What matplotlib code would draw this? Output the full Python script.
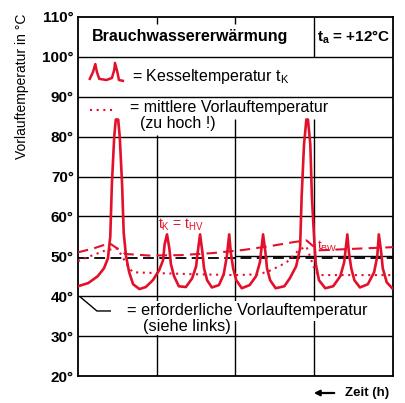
import matplotlib.pyplot as plt

plt.rcParams['font.family'] = ['Liberation Sans', 'DejaVu Sans']
plt.rcParams['mathtext.fontset'] = 'custom'
plt.rcParams['mathtext.rm'] = 'Liberation Sans'
plt.rcParams['mathtext.it'] = 'Liberation Sans'
plt.rcParams['mathtext.bf'] = 'Liberation Sans:bold'

RED = '#e3102b'

# Kesseltemperatur t_K (Zeit in Rasterfeldern, Temperatur in degC)
kessel_t = [0.00, 0.13, 0.25, 0.33, 0.38, 0.41, 0.43, 0.46, 0.48, 0.51, 0.53, 0.56,
            0.58, 0.61, 0.65, 0.70, 0.78, 0.86, 0.95, 1.03, 1.08, 1.10, 1.13, 1.16,
            1.18, 1.22, 1.28, 1.37, 1.45, 1.50, 1.52, 1.55, 1.58, 1.60, 1.64, 1.70,
            1.79, 1.85, 1.89, 1.92, 1.94, 1.97, 2.01, 2.08, 2.18, 2.26, 2.31, 2.35,
            2.38, 2.40, 2.44, 2.51, 2.62, 2.69, 2.77, 2.82, 2.84, 2.87, 2.90, 2.92,
            2.95, 2.97, 3.00, 3.02, 3.06, 3.14, 3.24, 3.33, 3.38, 3.42, 3.44, 3.47,
            3.51, 3.58, 3.68, 3.76, 3.80, 3.82, 3.85, 3.87, 3.92, 3.99]
kessel_T = [42.5, 43.3, 45.0, 47.0, 49.5, 55.0, 68.0, 80.0, 84.3, 84.3, 80.0, 68.0,
            56.0, 50.0, 46.0, 43.0, 41.8, 42.3, 44.0, 46.5, 49.0, 53.0, 55.5, 52.0,
            48.0, 45.0, 42.5, 42.3, 44.5, 47.5, 51.0, 55.5, 51.0, 47.0, 44.0, 42.2,
            42.8, 45.5, 50.0, 55.5, 51.0, 47.0, 44.0, 42.0, 42.8, 45.0, 48.5, 55.5,
            51.0, 47.0, 44.0, 42.0, 42.5, 44.5, 47.5, 52.0, 65.0, 78.0, 84.3, 84.3,
            78.0, 65.0, 54.0, 48.0, 44.0, 42.0, 42.5, 45.0, 48.5, 55.5, 51.0, 47.0,
            44.0, 42.2, 43.0, 46.0, 50.0, 55.5, 51.0, 47.0, 43.5, 42.0]

# Brauchwassertemperatur t_BW
bw_t = [0.00, 0.20, 0.40, 0.60, 0.90, 1.30, 1.70, 2.10, 2.45, 2.75, 2.90, 3.05, 3.40, 4.00]
bw_T = [51.0, 52.0, 53.3, 50.6, 50.2, 50.3, 50.8, 51.6, 52.6, 53.6, 54.0, 51.5, 51.8, 52.3]

# mittlere Vorlauftemperatur
mittel_t = [0.00, 0.15, 0.35, 0.50, 0.65, 0.70, 1.00, 1.50, 2.00, 2.30, 2.45, 2.65,
            2.80, 2.90, 3.00, 3.05, 4.00]
mittel_T = [48.8, 50.0, 51.5, 52.0, 47.0, 46.0, 45.8, 45.5, 45.3, 45.5, 46.5, 48.5,
            51.5, 52.5, 47.0, 45.3, 45.3]

# erforderliche Vorlauftemperatur
erf_t = [0.0, 4.0]
erf_T = [49.7, 49.7]

y_ticks = [20, 30, 40, 50, 60, 70, 80, 90, 100, 110]
y_labels = [f"{v}°" for v in y_ticks]

fig = plt.figure(figsize=(4.06, 4.03), dpi=100)
ax = fig.add_axes([78 / 406, 27 / 403, 315 / 406, 359 / 403])
ax.set_xlim(0, 4)
ax.set_ylim(20, 110)
ax.set_xticks([])
ax.set_yticks(y_ticks)
ax.set_yticklabels(y_labels, fontsize=11, fontweight='bold')
ax.tick_params(axis='y', length=0, pad=3)
for s in ax.spines.values():
    s.set_linewidth(1.3)

# raster
ax.hlines([30, 40, 60, 70, 80, 90, 100], 0, 4, color='black', lw=1.0, zorder=1)
ax.hlines(50, 2, 4, color='black', lw=1.0, zorder=1)
ax.vlines([1, 2, 3], 20, [80.5, 84.5, 84.5], color='black', lw=1.0, zorder=1)
ax.vlines([1, 2], 108.2, 110, color='black', lw=1.0, zorder=1)
ax.vlines(3, 100, 110, color='black', lw=1.0, zorder=1)

# kurven
ax.plot(erf_t, erf_T, color='black', lw=1.3, dashes=(6, 3), zorder=2)
ax.plot(mittel_t, mittel_T, color=RED, lw=1.5, dashes=(1, 2.2), zorder=3)
ax.plot(bw_t, bw_T, color=RED, lw=1.5, dashes=(5, 3), zorder=3)
ax.plot(kessel_t, kessel_T, color=RED, lw=1.9, zorder=4)

# kopfzeile
ax.text(1.42, 105, 'Brauchwassererwärmung', fontsize=11.5, fontweight='bold',
        ha='center', va='center')
ax.text(3.5, 105, r't$_\mathregular{a}$ = +12°C', fontsize=11, fontweight='bold',
        ha='center', va='center')

# legende
icon_t = [0.15, 0.19, 0.22, 0.24, 0.27, 0.36, 0.43, 0.46, 0.47, 0.50, 0.52, 0.57]
icon_T = [94.5, 96.2, 98.2, 96.2, 94.5, 94.2, 94.7, 96.7, 98.5, 96.2, 94.2, 94.0]
ax.plot(icon_t, icon_T, color=RED, lw=1.8)
ax.text(0.68, 95.0, r'= Kesseltemperatur t$_\mathregular{K}$', fontsize=11.5,
        ha='left', va='center')
ax.plot([0.15, 0.48], [86.7, 86.7], color=RED, lw=1.5, dashes=(1, 2.2))
ax.text(0.66, 87.2, '= mittlere Vorlauftemperatur', fontsize=11.5,
        ha='left', va='center')
ax.text(0.79, 83.2, '(zu hoch !)', fontsize=11.5, ha='left', va='center',
        bbox=dict(facecolor='white', edgecolor='none', pad=0.5), zorder=2)

ax.text(1.02, 57.9, r't$_\mathregular{K}$ = t$_\mathregular{HV}$', color=RED,
        fontsize=10, ha='left', va='center')
ax.text(3.04, 52.6, r't$_\mathregular{BW}$', color=RED, fontsize=9.5,
        ha='left', va='center')

ax.plot([0.03, 0.24, 0.41], [39.8, 36.3, 36.3], color='black', lw=1.0)
ax.text(0.62, 36.3, '= erforderliche Vorlauftemperatur', fontsize=11.8,
        ha='left', va='center',
        bbox=dict(facecolor='white', edgecolor='none', pad=1.5), zorder=2)
ax.text(0.82, 32.5, '(siehe links)', fontsize=11.8, ha='left', va='center',
        bbox=dict(facecolor='white', edgecolor='none', pad=1.0), zorder=2)

fig.text(22 / 406, 1 - 86 / 403, 'Vorlauftemperatur in °C', rotation=90,
         fontsize=10, ha='center', va='center')
fig.text(345 / 406, 1 - 393 / 403, 'Zeit (h)', fontsize=9.5, fontweight='bold',
         ha='left', va='center')
ax.annotate('', xy=(311 / 406, 1 - 393 / 403), xycoords='figure fraction',
            xytext=(337 / 406, 1 - 393 / 403), textcoords='figure fraction',
            arrowprops=dict(arrowstyle='-|>', color='black', lw=1.6,
                            mutation_scale=8))

fig.savefig('out.png', dpi=100)
